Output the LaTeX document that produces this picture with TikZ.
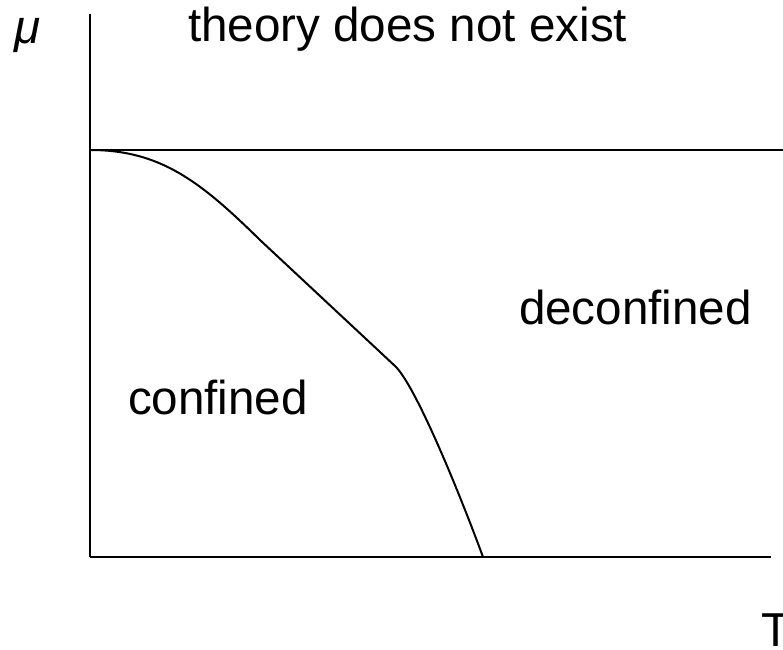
\documentclass[tikz,border=0pt]{standalone}
\usepackage{fontspec}
\setmainfont{Liberation Sans}
\usepackage{xcolor}

\begin{document}
\begin{tikzpicture}[x=0.5pt,y=0.5pt,line width=1pt,
  lbl/.style={inner sep=0pt,anchor=base west,font=\fontsize{23.8}{28}\selectfont}]

% Frame
\useasboundingbox (0,0) rectangle (783,649);
\fill[white] (0,0) rectangle (783,649);

% Axes
\draw (90,635) -- (90,92);
\draw (90,92) -- (771,92);

% Upper limit
\draw (90,499) -- (783,499);

% Transition line
\draw (90,499) .. controls (160,499) and (200,468) .. (260,409)
  -- (395,283)
  .. controls (415,264.2) and (458,160) .. (483,92);

% Labels
\node[lbl] (mu) at (13,605) {\itshape μ};
\node[lbl] (top) at (187,607) {theory does not exist};
\node[lbl] (dec) at (518,324) {deconfined};
\node[lbl] (conf) at (127,234) {confined};
\node[lbl] (temp) at (760,3) {T};

\end{tikzpicture}
\end{document}
